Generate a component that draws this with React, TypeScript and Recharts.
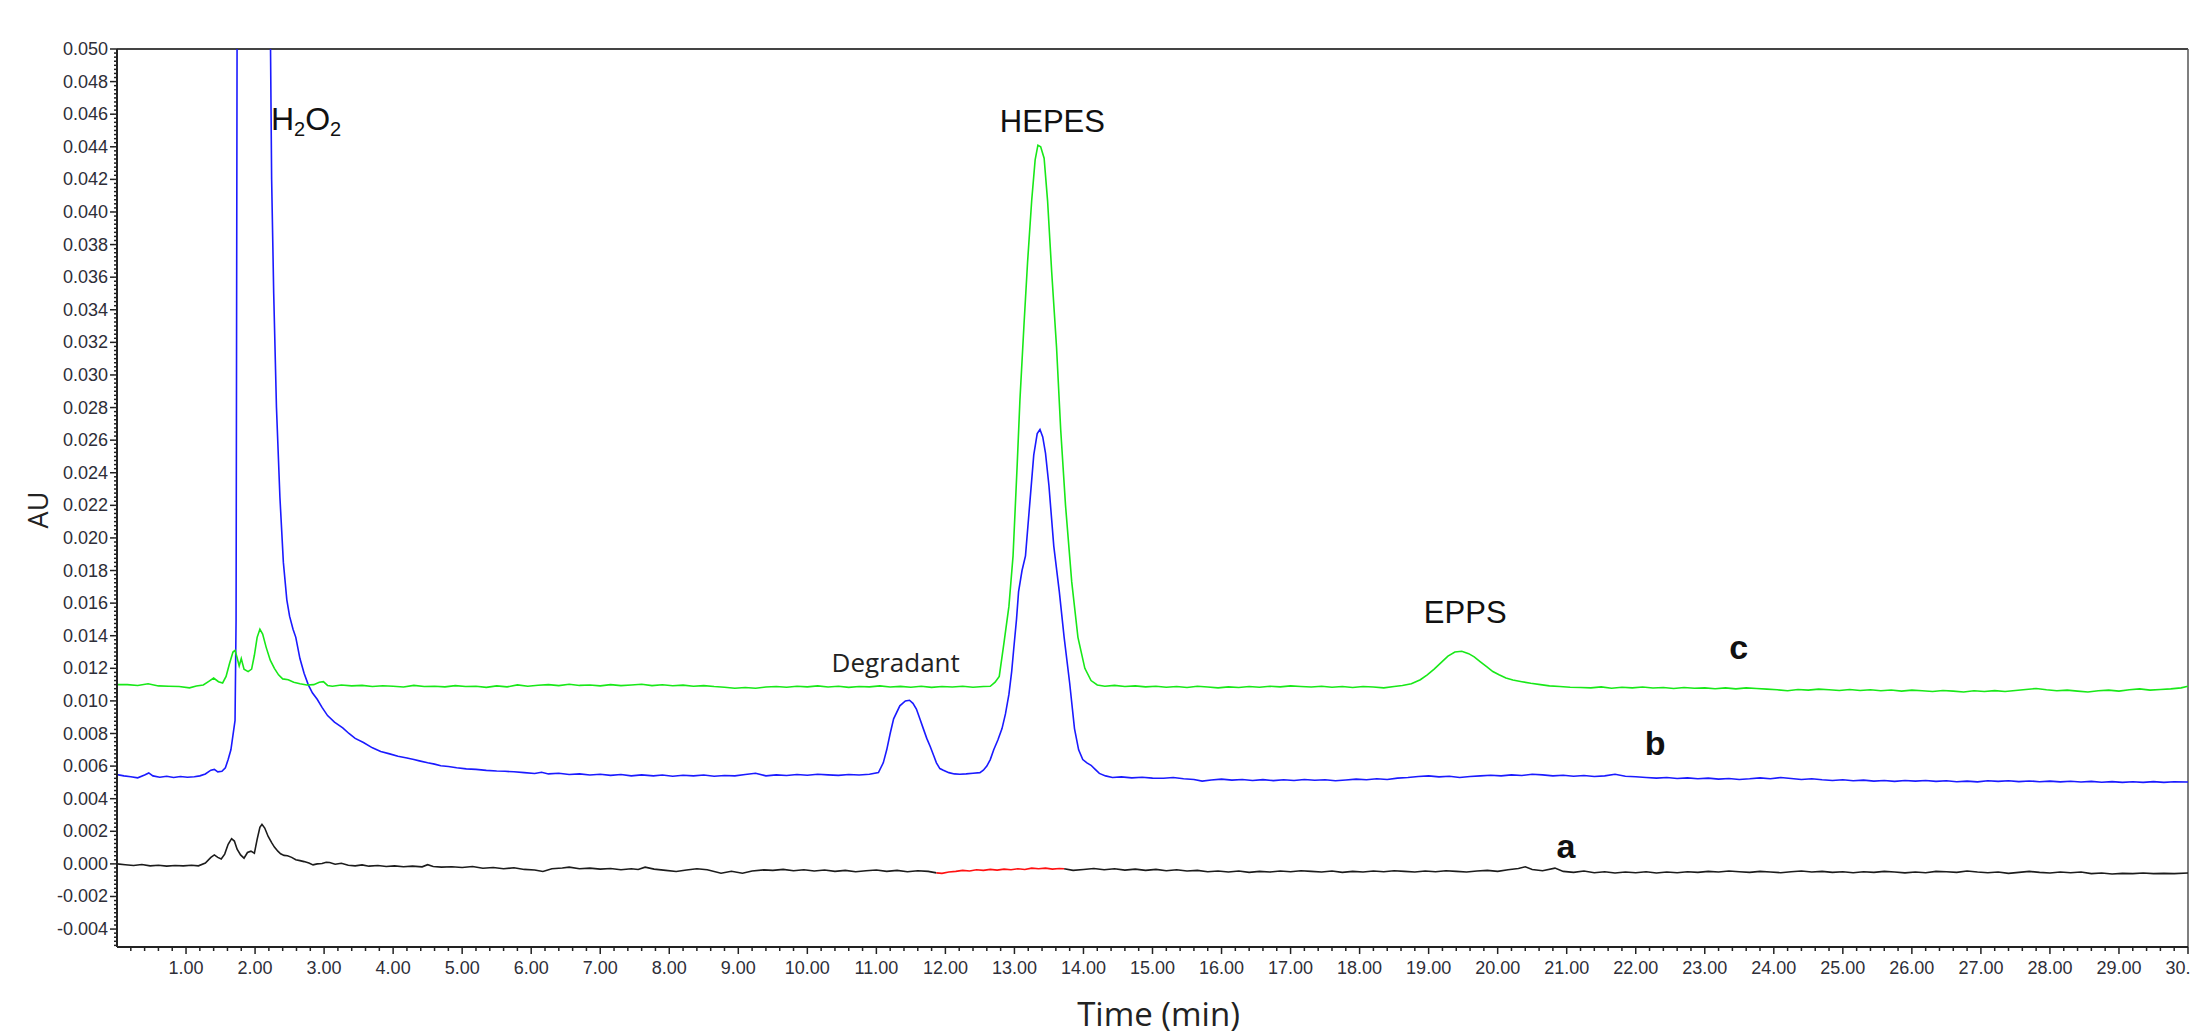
import {
  LineChart,
  Line,
  XAxis,
  YAxis,
  ReferenceLine,
  ReferenceDot,
} from "recharts";

// Chromatogram: a = blank (black, red integration mark), b = degraded (blue), c = standard (green)

const cTime = [
  0, 0.15, 0.3, 0.45, 0.6, 0.75, 0.9, 1.05, 1.15, 1.25, 1.33, 1.4, 1.47, 1.53, 1.58, 1.63, 1.68, 1.71, 1.74, 1.77,
  1.8, 1.84, 1.9, 1.95, 1.99, 2.03, 2.07, 2.11, 2.16, 2.22, 2.28, 2.34, 2.4, 2.48, 2.56, 2.65, 2.75, 2.85, 2.93, 2.99,
  3.05, 3.12, 3.25, 3.4, 3.55, 3.7, 3.85, 4.0, 4.15, 4.3, 4.45, 4.6, 4.75, 4.9, 5.05, 5.2, 5.35, 5.5, 5.65, 5.8,
  5.95, 6.1, 6.25, 6.4, 6.55, 6.7, 6.85, 7.0, 7.15, 7.3, 7.45, 7.6, 7.75, 7.9, 8.05, 8.2, 8.35, 8.5, 8.65, 8.8,
  8.95, 9.1, 9.25, 9.4, 9.55, 9.7, 9.85, 10.0, 10.15, 10.3, 10.45, 10.6, 10.75, 10.9, 11.05, 11.2, 11.35, 11.5, 11.65, 11.8,
  11.95, 12.1, 12.25, 12.4, 12.55, 12.65, 12.72, 12.78, 12.85, 12.92, 12.98, 13.04, 13.08, 13.14, 13.19, 13.25, 13.3, 13.34, 13.38, 13.43,
  13.48, 13.54, 13.61, 13.67, 13.74, 13.83, 13.92, 14.02, 14.11, 14.2, 14.31, 14.45, 14.6, 14.75, 14.9, 15.05, 15.2, 15.35, 15.5, 15.65,
  15.8, 15.95, 16.1, 16.25, 16.4, 16.55, 16.7, 16.85, 17.0, 17.15, 17.3, 17.45, 17.6, 17.75, 17.9, 18.05, 18.2, 18.35, 18.5, 18.62,
  18.75, 18.88, 18.98, 19.08, 19.18, 19.28, 19.38, 19.48, 19.58, 19.66, 19.75, 19.84, 19.93, 20.02, 20.12, 20.22, 20.35, 20.48, 20.62, 20.75,
  20.9, 21.05, 21.2, 21.35, 21.5, 21.65, 21.8, 21.95, 22.1, 22.25, 22.4, 22.55, 22.7, 22.85, 23.0, 23.15, 23.3, 23.45, 23.6, 23.75,
  23.9, 24.05, 24.2, 24.35, 24.5, 24.65, 24.8, 24.95, 25.1, 25.25, 25.4, 25.55, 25.7, 25.85, 26.0, 26.15, 26.3, 26.45, 26.6, 26.75,
  26.9, 27.05, 27.2, 27.35, 27.5, 27.65, 27.8, 27.95, 28.1, 28.25, 28.4, 28.55, 28.7, 28.85, 29.0, 29.15, 29.3, 29.45, 29.6, 29.75,
  29.9, 30.0,
];
const cAU = [
  0.011, 0.0110, 0.01095, 0.01105, 0.01092, 0.0109, 0.01088, 0.0108, 0.01092, 0.01098, 0.0112, 0.0114, 0.01118, 0.0111, 0.0115, 0.0123, 0.013, 0.0131, 0.01265, 0.01215,
  0.0126, 0.01195, 0.0118, 0.01195, 0.0128, 0.0139, 0.0144, 0.0141, 0.0133, 0.0125, 0.012, 0.0116, 0.01135, 0.0113, 0.01115, 0.01105, 0.01098, 0.011, 0.01115, 0.01118,
  0.01095, 0.0109, 0.01098, 0.01092, 0.01095, 0.01088, 0.01093, 0.0109, 0.01085, 0.01095, 0.01088, 0.0109, 0.01086, 0.01094, 0.01088, 0.0109, 0.01083, 0.01092, 0.01086, 0.01098,
  0.0109, 0.01096, 0.011, 0.01094, 0.01102, 0.01095, 0.01098, 0.01092, 0.011, 0.01094, 0.01098, 0.01102, 0.01094, 0.01099, 0.01093, 0.01097, 0.0109, 0.01094, 0.01088, 0.01084,
  0.01078, 0.01082, 0.01078, 0.01085, 0.01088, 0.01084, 0.0109, 0.01086, 0.01092, 0.01085, 0.0109, 0.01083, 0.01088, 0.01086, 0.01092, 0.01085, 0.01089, 0.01084, 0.0109, 0.01083,
  0.01088, 0.01085, 0.0109, 0.01084, 0.01088, 0.0109, 0.01115, 0.0115, 0.0136, 0.0158, 0.0189, 0.0245, 0.0285, 0.0332, 0.0369, 0.0407, 0.0432, 0.0441, 0.044, 0.0433,
  0.0407, 0.0363, 0.0317, 0.02665, 0.022, 0.0173, 0.0139, 0.012, 0.01125, 0.01098, 0.0109, 0.01095, 0.01088, 0.01092, 0.01086, 0.0109, 0.01084, 0.01088, 0.01082, 0.0109,
  0.01085, 0.0108, 0.01086, 0.01082, 0.01088, 0.01084, 0.0109, 0.01086, 0.01092, 0.01088, 0.01085, 0.0109, 0.01084, 0.01088, 0.01082, 0.01088, 0.01085, 0.0108, 0.01088, 0.01095,
  0.01105, 0.0113, 0.0116, 0.01195, 0.01235, 0.01275, 0.013, 0.01305, 0.0129, 0.0127, 0.0124, 0.0121, 0.0118, 0.0116, 0.0114, 0.01128, 0.01118, 0.01108, 0.011, 0.01092,
  0.01088, 0.01084, 0.01082, 0.0108, 0.01086, 0.01078, 0.01084, 0.0108, 0.01085, 0.01079, 0.01082, 0.01076, 0.01082, 0.01078, 0.0108, 0.01075, 0.0108, 0.01074, 0.0108, 0.01076,
  0.01072, 0.01068, 0.01062, 0.0107, 0.01066, 0.01072, 0.01068, 0.01064, 0.0107, 0.01064, 0.01068, 0.01062, 0.01067, 0.0106, 0.01066, 0.01062, 0.01058, 0.01064, 0.0106, 0.01055,
  0.01062, 0.01058, 0.01063, 0.01058, 0.01064, 0.0107, 0.01076, 0.01068, 0.01062, 0.01066, 0.0106, 0.01055, 0.01062, 0.01066, 0.0106, 0.01068, 0.01074, 0.01066, 0.0107, 0.01074,
  0.0108, 0.0109,
];

const bTime = [
  0, 0.1, 0.2, 0.3, 0.4, 0.46, 0.52, 0.62, 0.72, 0.82, 0.92, 1.02, 1.12, 1.2, 1.28, 1.36, 1.41, 1.46, 1.52, 1.57,
  1.61, 1.65, 1.68, 1.71, 1.725, 1.74, 1.98, 2.22, 2.24, 2.27, 2.31, 2.36, 2.41, 2.46, 2.5, 2.55, 2.59, 2.65, 2.71, 2.77,
  2.83, 2.9, 2.97, 3.05, 3.15, 3.27, 3.36, 3.45, 3.57, 3.7, 3.82, 3.95, 4.07, 4.2, 4.3, 4.38, 4.5, 4.6, 4.69, 4.8,
  4.92, 5.06, 5.2, 5.35, 5.5, 5.62, 5.75, 5.9, 6.05, 6.15, 6.25, 6.4, 6.55, 6.7, 6.85, 7.0, 7.15, 7.3, 7.45, 7.6,
  7.77, 7.9, 8.05, 8.2, 8.35, 8.5, 8.65, 8.8, 8.95, 9.1, 9.25, 9.4, 9.55, 9.7, 9.85, 10.0, 10.15, 10.3, 10.45, 10.6,
  10.75, 10.9, 11.03, 11.1, 11.15, 11.2, 11.25, 11.34, 11.42, 11.48, 11.53, 11.58, 11.63, 11.68, 11.73, 11.78, 11.83, 11.87, 11.92, 11.97,
  12.05, 12.13, 12.21, 12.3, 12.4, 12.5, 12.55, 12.6, 12.65, 12.7, 12.76, 12.82, 12.87, 12.92, 12.96, 12.99, 13.03, 13.06, 13.11, 13.16,
  13.22, 13.28, 13.33, 13.37, 13.41, 13.45, 13.5, 13.57, 13.65, 13.72, 13.8, 13.87, 13.93, 13.99, 14.05, 14.11, 14.17, 14.23, 14.32, 14.42,
  14.55, 14.7, 14.85, 15.0, 15.16, 15.3, 15.45, 15.6, 15.72, 15.85, 16.0, 16.15, 16.3, 16.45, 16.6, 16.75, 16.9, 17.05, 17.2, 17.35,
  17.5, 17.65, 17.8, 17.95, 18.1, 18.25, 18.4, 18.55, 18.7, 18.85, 19.0, 19.15, 19.3, 19.45, 19.6, 19.75, 19.9, 20.05, 20.2, 20.35,
  20.5, 20.65, 20.8, 20.95, 21.1, 21.25, 21.4, 21.55, 21.7, 21.85, 22.0, 22.15, 22.3, 22.45, 22.6, 22.75, 22.9, 23.05, 23.2, 23.35,
  23.5, 23.65, 23.8, 23.95, 24.1, 24.25, 24.4, 24.55, 24.7, 24.85, 25.0, 25.15, 25.3, 25.45, 25.6, 25.75, 25.9, 26.05, 26.2, 26.35,
  26.5, 26.65, 26.8, 26.95, 27.1, 27.25, 27.4, 27.55, 27.7, 27.85, 28.0, 28.15, 28.3, 28.45, 28.6, 28.75, 28.9, 29.05, 29.2, 29.35,
  29.5, 29.65, 29.8, 30.0,
];
const bAU = [
  0.00548, 0.0054, 0.00535, 0.00528, 0.00545, 0.00558, 0.0054, 0.00532, 0.00538, 0.0053, 0.00536, 0.00532, 0.00535, 0.0054, 0.00552, 0.00575, 0.0058, 0.00565, 0.00568, 0.0059,
  0.0064, 0.007, 0.0079, 0.0088, 0.015, 0.052, 0.6, 0.052, 0.042, 0.035, 0.028, 0.0225, 0.0185, 0.0162, 0.0152, 0.0144, 0.0139, 0.0126, 0.0117, 0.011,
  0.0105, 0.0101, 0.0096, 0.0091, 0.0087, 0.00835, 0.008, 0.0077, 0.00745, 0.00712, 0.0069, 0.00675, 0.0066, 0.0065, 0.0064, 0.00632, 0.0062, 0.00612, 0.00602, 0.00598,
  0.0059, 0.00583, 0.0058, 0.00574, 0.0057, 0.00568, 0.00565, 0.0056, 0.00555, 0.00562, 0.00552, 0.00556, 0.00548, 0.00552, 0.00545, 0.0055, 0.00543, 0.00548, 0.0054, 0.00546,
  0.0054, 0.00545, 0.00538, 0.00544, 0.0054, 0.00545, 0.00538, 0.00542, 0.0054, 0.00548, 0.00556, 0.0054, 0.00546, 0.00542, 0.00548, 0.00544, 0.0055, 0.00546, 0.00543, 0.00548,
  0.00545, 0.0055, 0.0056, 0.0062, 0.007, 0.008, 0.0089, 0.0097, 0.01, 0.01004, 0.00985, 0.0095, 0.0089, 0.0083, 0.0077, 0.0072, 0.00665, 0.0062, 0.00585, 0.00575,
  0.0056, 0.00552, 0.0055, 0.00552, 0.00556, 0.0056, 0.00575, 0.006, 0.0064, 0.007, 0.0076, 0.0083, 0.0092, 0.0104, 0.0118, 0.0132, 0.015, 0.0167, 0.018, 0.0189,
  0.022, 0.0251, 0.0264, 0.02665, 0.0262, 0.0252, 0.0232, 0.0195, 0.0167, 0.0139, 0.0111, 0.0083, 0.007, 0.0064, 0.0062, 0.00605, 0.0058, 0.00555, 0.0054, 0.0053,
  0.00534, 0.00528, 0.00532, 0.00526, 0.00525, 0.0053, 0.00522, 0.00518, 0.00508, 0.00515, 0.0052, 0.00514, 0.00518, 0.00512, 0.00517, 0.00511, 0.00516, 0.00512, 0.00518, 0.00513,
  0.00516, 0.0051, 0.00515, 0.0052, 0.00516, 0.00522, 0.00518, 0.00526, 0.0053, 0.00536, 0.0054, 0.00534, 0.00538, 0.0053, 0.00536, 0.0054, 0.00544, 0.0054, 0.00546, 0.00542,
  0.0055, 0.00546, 0.0054, 0.00544, 0.00538, 0.00542, 0.00536, 0.0054, 0.0055, 0.00538, 0.00535, 0.0053, 0.00526, 0.0053, 0.00524, 0.00528, 0.00522, 0.00526, 0.0052, 0.00524,
  0.00518, 0.00522, 0.00528, 0.00522, 0.0053, 0.00524, 0.00518, 0.00522, 0.00516, 0.00512, 0.00516, 0.0051, 0.00514, 0.00508, 0.00512, 0.00506, 0.00512, 0.00508, 0.00512, 0.00506,
  0.0051, 0.00504, 0.00508, 0.00503, 0.0051, 0.00506, 0.0051, 0.00505, 0.00509, 0.00504, 0.00508, 0.00503, 0.00507, 0.00502, 0.00506, 0.00501, 0.00505, 0.005, 0.00504, 0.005,
  0.00505, 0.005, 0.00504, 0.00502,
];

// null at 12.8 leaves the gap where the red integration mark sits
const aTime = [
  0, 0.12, 0.24, 0.36, 0.48, 0.6, 0.72, 0.84, 0.96, 1.08, 1.18, 1.28, 1.36, 1.41, 1.46, 1.51, 1.56, 1.61, 1.66, 1.7,
  1.74, 1.79, 1.84, 1.89, 1.94, 1.99, 2.03, 2.07, 2.1, 2.14, 2.19, 2.24, 2.28, 2.33, 2.37, 2.42, 2.47, 2.53, 2.59, 2.65,
  2.71, 2.78, 2.84, 2.9, 2.97, 3.03, 3.08, 3.16, 3.25, 3.35, 3.45, 3.55, 3.65, 3.78, 3.9, 4.02, 4.15, 4.28, 4.42, 4.5,
  4.58, 4.7, 4.85, 5.0, 5.15, 5.3, 5.45, 5.6, 5.75, 5.9, 6.05, 6.17, 6.3, 6.45, 6.55, 6.7, 6.85, 7.0, 7.15, 7.3,
  7.45, 7.55, 7.65, 7.78, 7.95, 8.1, 8.25, 8.4, 8.55, 8.75, 8.9, 9.06, 9.2, 9.37, 9.5, 9.65, 9.8, 9.95, 10.1, 10.25,
  10.4, 10.55, 10.7, 10.85, 11.0, 11.15, 11.3, 11.45, 11.6, 11.75, 11.87, 12.8, 13.72, 13.85, 14.0, 14.15, 14.3, 14.45, 14.6, 14.75,
  14.9, 15.05, 15.2, 15.35, 15.5, 15.65, 15.8, 15.95, 16.1, 16.25, 16.4, 16.55, 16.7, 16.85, 17.0, 17.15, 17.3, 17.45, 17.6, 17.75,
  17.9, 18.05, 18.2, 18.35, 18.5, 18.65, 18.8, 18.95, 19.1, 19.25, 19.4, 19.55, 19.7, 19.85, 20.0, 20.15, 20.3, 20.4, 20.5, 20.65,
  20.83, 20.95, 21.1, 21.25, 21.4, 21.55, 21.7, 21.85, 22.0, 22.15, 22.3, 22.45, 22.6, 22.75, 22.9, 23.05, 23.2, 23.35, 23.5, 23.65,
  23.8, 23.95, 24.1, 24.25, 24.4, 24.55, 24.7, 24.85, 25.0, 25.15, 25.3, 25.45, 25.6, 25.75, 25.9, 26.05, 26.2, 26.35, 26.5, 26.65,
  26.8, 26.95, 27.1, 27.25, 27.4, 27.55, 27.7, 27.85, 28.0, 28.15, 28.3, 28.45, 28.6, 28.75, 28.9, 29.05, 29.2, 29.35, 29.5, 29.65,
  29.8, 30.0,
];
const aAU = [
  0, -0.00005, -0.0001, -0.00004, -0.00012, -0.00008, -0.00014, -0.0001, -0.00012, -0.00008, -0.00012, 0.00005, 0.0004, 0.00055, 0.0004, 0.0003, 0.0006, 0.0012, 0.00155, 0.0014,
  0.0009, 0.00055, 0.00035, 0.0007, 0.00078, 0.00065, 0.0015, 0.00225, 0.00243, 0.0022, 0.00168, 0.0013, 0.00103, 0.00078, 0.00062, 0.00052, 0.0005, 0.0004, 0.00025, 0.0002,
  0.00014, 0.00005, -0.00006, 0, 0.00002, 0.0001, 0.00008, -0.00002, 0.00004, -0.00008, -0.00012, -0.00006, -0.00014, -0.0001, -0.00016, -0.00012, -0.00018, -0.00014, -0.00018, -0.00005,
  -0.00016, -0.0002, -0.00018, -0.00022, -0.00016, -0.00027, -0.00022, -0.0003, -0.00024, -0.00034, -0.00038, -0.00047, -0.0003, -0.00025, -0.0002, -0.0003, -0.00026, -0.00032, -0.00028, -0.00036,
  -0.0003, -0.00034, -0.0002, -0.00032, -0.0004, -0.00047, -0.00038, -0.0003, -0.00036, -0.00057, -0.00045, -0.00057, -0.00044, -0.00037, -0.0004, -0.00034, -0.00042, -0.00036, -0.00044, -0.00038,
  -0.00046, -0.0004, -0.00048, -0.00042, -0.00038, -0.00046, -0.0004, -0.00048, -0.00042, -0.00046, -0.00055, null, -0.0003, -0.0004, -0.00034, -0.00028, -0.00036, -0.0003, -0.00038, -0.00032,
  -0.0004, -0.00034, -0.00042, -0.00036, -0.00044, -0.0004, -0.00048, -0.00044, -0.0005, -0.00044, -0.00052, -0.00046, -0.0005, -0.00044, -0.00048, -0.00042, -0.00046, -0.0005, -0.00044, -0.00052,
  -0.00046, -0.0005, -0.00044, -0.00048, -0.00042, -0.00046, -0.0005, -0.00044, -0.00048, -0.00042, -0.00046, -0.0005, -0.00044, -0.0004, -0.00046, -0.00036, -0.00028, -0.00018, -0.00034, -0.00042,
  -0.00026, -0.00046, -0.00052, -0.00044, -0.00054, -0.00048, -0.00056, -0.0005, -0.00054, -0.00048, -0.00056, -0.0005, -0.00054, -0.00048, -0.00052, -0.00046, -0.0005, -0.00044, -0.00048, -0.00052,
  -0.00046, -0.0005, -0.00054, -0.00048, -0.00044, -0.0005, -0.00046, -0.00052, -0.00048, -0.00054, -0.00048, -0.00052, -0.00046, -0.0005, -0.00055, -0.0005, -0.00054, -0.00046, -0.00048, -0.00052,
  -0.00044, -0.0005, -0.00054, -0.0005, -0.00058, -0.00052, -0.00046, -0.00052, -0.00056, -0.0005, -0.00054, -0.0005, -0.0006, -0.00056, -0.00062, -0.00058, -0.0006, -0.00056, -0.0006, -0.00058,
  -0.0006, -0.00056,
];

const markTime = [
  11.87, 11.95, 12.05, 12.15, 12.25, 12.35, 12.45, 12.55, 12.65, 12.75, 12.85, 12.95, 13.05, 13.15, 13.25, 13.35, 13.45, 13.55, 13.65, 13.72,
];
const markAU = [
  -0.00055, -0.00058, -0.0005, -0.00046, -0.0004, -0.00044, -0.00036, -0.0004, -0.00034, -0.00038, -0.00032, -0.00036, -0.0003, -0.00034, -0.00026, -0.0003, -0.00026, -0.00032, -0.00028, -0.0003,
];

const majorTimes = [
  1, 2, 3, 4, 5, 6, 7, 8, 9, 10, 11, 12, 13, 14, 15, 16, 17, 18, 19, 20, 21, 22, 23, 24, 25, 26, 27, 28, 29, 30,
];
const majorAU = [
  -0.004, -0.002, 0, 0.002, 0.004, 0.006, 0.008, 0.01, 0.012, 0.014, 0.016, 0.018, 0.02, 0.022, 0.024, 0.026,
  0.028, 0.03, 0.032, 0.034, 0.036, 0.038, 0.04, 0.042, 0.044, 0.046, 0.048, 0.05,
];

const noteText = ["H2O2", "HEPES", "Degradant", "EPPS", "c", "b", "a"];
const noteTime = [2.23, 13.55, 11.28, 19.53, 23.49, 22.28, 20.99];
const noteAU = [0.045, 0.0449, 0.01175, 0.0148, 0.01258, 0.00669, 0.00037];

const T_DOMAIN: [number, number] = [0, 30];
const AU_DOMAIN: [number, number] = [-0.0051, 0.05];

// minor ticks every 0.2 min and every 0.00025 AU; the majors above carry the labels
const timeTicks = Array.from({ length: 150 }, (_, i) => Math.round((i + 1) * 0.2 * 10) / 10);
const auTicks = Array.from({ length: 221 }, (_, i) => Math.round((-0.005 + i * 0.00025) * 1e5) / 1e5);

const TICK_FONT = "'Liberation Sans', Arial, sans-serif";
const AXIS_COLOR = "#222";

function zip(times: number[], values: (number | null)[]) {
  return times.map((t, i) => ({ t, v: values[i] }));
}

const traceC = zip(cTime, cAU);
const traceB = zip(bTime, bAU);
const traceA = zip(aTime, aAU);
const traceMark = zip(markTime, markAU);

function TimeTick({ x, y, payload }: any) {
  const v = payload.value as number;
  const major = majorTimes.includes(v);
  return (
    <g>
      <line x1={x} x2={x} y1={y} y2={y + (major ? 7 : 4)} stroke={AXIS_COLOR} strokeWidth={1.5} />
      {major && (
        <text x={x} y={y + 27} textAnchor="middle" fontSize={18} fontFamily={TICK_FONT} fill="#2e2e38">
          {v.toFixed(2)}
        </text>
      )}
    </g>
  );
}

function AUTick({ x, y, payload }: any) {
  const v = payload.value as number;
  const major = majorAU.some((m) => Math.abs(m - v) < 1e-7);
  return (
    <g>
      <line x1={x} x2={x - (major ? 7 : 3)} y1={y} y2={y} stroke={AXIS_COLOR} strokeWidth={1.5} />
      {major && (
        <text x={x - 9} y={y + 6} textAnchor="end" fontSize={18} fontFamily={TICK_FONT} fill="#2e2e38">
          {v.toFixed(3)}
        </text>
      )}
    </g>
  );
}

function noteLabel(text: string) {
  return (props: any) => {
    const { x, y } = props.viewBox;
    if (text === "H2O2") {
      return (
        <text x={x} y={y} fontSize={32} fontFamily={TICK_FONT} fill="#111">
          <tspan>H</tspan>
          <tspan fontSize={20} dy={6}>2</tspan>
          <tspan dy={-6}>O</tspan>
          <tspan fontSize={20} dy={6}>2</tspan>
        </text>
      );
    }
    if (text === "Degradant") {
      return (
        <text x={x} y={y} textAnchor="middle" fontSize={26} fontFamily="'Open Sans', sans-serif" fill="#222">
          {text}
        </text>
      );
    }
    const bold = text.length === 1;
    return (
      <text
        x={x}
        y={y}
        textAnchor="middle"
        fontSize={bold ? 34 : 31}
        fontWeight={bold ? "bold" : "normal"}
        fontFamily={TICK_FONT}
        fill="#111"
      >
        {text}
      </text>
    );
  };
}

export default function App() {
  return (
    <div style={{ position: "absolute", left: 0, top: 0, background: "#fff" }}>
      <LineChart width={2190} height={1036} margin={{ top: 49, right: 2, bottom: 0, left: 0 }}>
        <XAxis
          type="number"
          dataKey="t"
          domain={T_DOMAIN}
          ticks={timeTicks}
          interval={0}
          tickSize={0}
          tickMargin={0}
          tickLine={false}
          tick={<TimeTick />}
          height={89}
          axisLine={{ stroke: AXIS_COLOR, strokeWidth: 2 }}
          allowDataOverflow
          label={{
            value: "Time (min)",
            position: "insideBottom",
            offset: 10,
            fontSize: 33,
            fontFamily: "'Open Sans', sans-serif",
            fill: "#222",
            dx: 6,
          }}
        />
        <YAxis
          type="number"
          domain={AU_DOMAIN}
          ticks={auTicks}
          interval={0}
          tickSize={0}
          tickMargin={0}
          tickLine={false}
          tick={<AUTick />}
          width={117}
          axisLine={{ stroke: AXIS_COLOR, strokeWidth: 2 }}
          allowDataOverflow
          label={{
            content: ({ viewBox }: any) => {
              const cx = viewBox.x + 37;
              const cy = viewBox.y + viewBox.height / 2 + 12;
              return (
                <text
                  x={cx}
                  y={cy}
                  transform={`rotate(-90 ${cx} ${cy})`}
                  textAnchor="middle"
                  dominantBaseline="central"
                  fontSize={27}
                  fontFamily="'Open Sans', sans-serif"
                  fill="#222"
                >
                  AU
                </text>
              );
            },
          }}
        />
        <ReferenceLine y={0.05} stroke="#444" strokeWidth={2} />
        <ReferenceLine x={30} stroke="#555" strokeWidth={1.5} />
        <Line data={traceA} dataKey="v" stroke="#1c1c1c" strokeWidth={1.6} dot={false} isAnimationActive={false} />
        <Line data={traceMark} dataKey="v" stroke="#ff1010" strokeWidth={1.6} dot={false} isAnimationActive={false} />
        <Line data={traceB} dataKey="v" stroke="#1a1aff" strokeWidth={1.6} dot={false} isAnimationActive={false} />
        <Line data={traceC} dataKey="v" stroke="#18e818" strokeWidth={1.6} dot={false} isAnimationActive={false} />
        {noteText.map((n, i) => (
          <ReferenceDot
            key={n}
            x={noteTime[i]}
            y={noteAU[i]}
            r={0}
            fill="none"
            stroke="none"
            label={noteLabel(n)}
          />
        ))}
      </LineChart>
    </div>
  );
}
